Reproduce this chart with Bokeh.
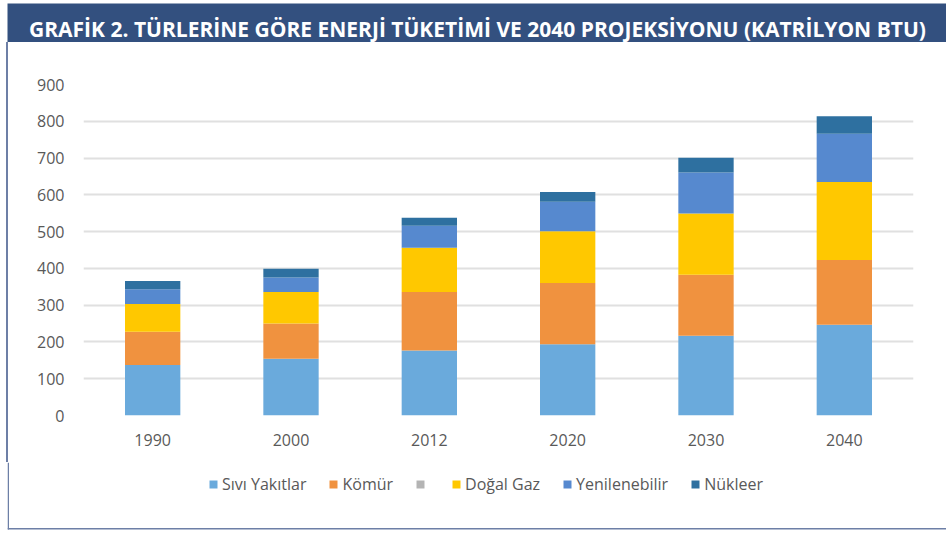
from bokeh.plotting import figure
from bokeh.layouts import column, row
from bokeh.models import (ColumnDataSource, Range1d, FixedTicker, Legend, LegendItem,
                          Label, Div, BoxAnnotation)
from bokeh.embed import file_html
from bokeh.resources import INLINE

years = ["1990", "2000", "2012", "2020", "2030", "2040"]
sivi = [137, 154, 177, 194, 217, 247]
komur = [91, 96, 159, 166, 166, 176]
gaz = [75, 86, 120, 141, 166, 212]
yenilenebilir = [40, 39, 60, 80, 112, 131]
nukleer = [23, 24, 22, 27, 40, 48]

series = ["sivi", "komur", "gaz", "yen", "nuk"]
labels = ["Sıvı Yakıtlar", "Kömür", "Doğal Gaz", "Yenilenebilir", "Nükleer"]
colors = ["#6aaadc", "#f0923f", "#ffc800", "#5689cf", "#2e70a0"]
gray_color = "#b4b4b4"
y_ticks = [0, 100, 200, 300, 400, 500, 600, 700, 800, 900]
title_text = "GRAFİK 2. TÜRLERİNE GÖRE ENERJİ TÜKETİMİ VE 2040 PROJEKSİYONU (KATRİLYON BTU)"

FRAME_LINE = "#6d7fa6"
TW = 946

source = ColumnDataSource(data=dict(years=years, sivi=sivi, komur=komur, gaz=gaz,
                                    yen=yenilenebilir, nuk=nukleer))

# ---------- title bar ----------
TH = 42
tfig = figure(width=TW, height=TH, output_backend="svg", toolbar_location=None,
              x_axis_location=None, y_axis_location=None, min_border=0,
              min_border_top=3, min_border_left=7,
              x_range=Range1d(0, 1), y_range=Range1d(0, 1))
tfig.outline_line_color = None
tfig.xgrid.visible = False
tfig.ygrid.visible = False
tfig.border_fill_color = "white"
tfig.background_fill_color = "#33507f"
tfig.add_layout(Label(x=21.5, y=13.7, x_units="screen", y_units="screen",
                      text=title_text, text_font="Open Sans", text_font_style="bold",
                      text_font_size="21px", text_color="white",
                      text_baseline="alphabetic", text_align="left"))

# ---------- main chart ----------
MH = 420
SW = 8
strip = Div(text="", width=SW, height=MH, margin=0,
            styles={"background": "linear-gradient(to right, white 6.5px, %s 6.5px, %s 8px)"
                    % (FRAME_LINE, FRAME_LINE)})

p = figure(x_range=years, y_range=Range1d(0, 900), width=TW - SW, height=MH,
           output_backend="svg", toolbar_location=None, min_border=0,
           min_border_left=75, min_border_right=33, min_border_top=42,
           min_border_bottom=MH - 42 - 331)
p.outline_line_color = None
p.background_fill_color = "white"
p.border_fill_color = "white"

p.vbar_stack(series, x="years", width=0.4, source=source, color=colors, line_color=None)

p.yaxis.ticker = FixedTicker(ticks=y_ticks)
for ax in (p.xaxis, p.yaxis):
    ax.axis_line_color = None
    ax.major_tick_line_color = None
    ax.minor_tick_line_color = None
    ax.major_tick_out = 0
    ax.major_tick_in = 0
    ax.minor_tick_out = 0
    ax.major_label_text_font = "Open Sans"
    ax.major_label_text_font_size = "16px"
    ax.major_label_text_color = "#595959"
p.yaxis.major_label_standoff = 19
p.xaxis.major_label_standoff = 18

p.xgrid.grid_line_color = None
p.ygrid.grid_line_color = "#e0e0e0"
p.ygrid.grid_line_width = 2

# ---------- legend area (with bottom / left frame lines) ----------
LH = 533 - TH - MH
lfig = figure(width=TW, height=LH, output_backend="svg", toolbar_location=None,
              x_axis_location=None, y_axis_location=None, min_border=0,
              min_border_left=7, x_range=years, y_range=Range1d(0, 1))
lfig.outline_line_color = None
lfig.xgrid.visible = False
lfig.ygrid.visible = False
lfig.border_fill_color = "white"
lfig.background_fill_color = "white"

# legend keys: hidden renderers sharing the chart's data (only their swatches are shown)
key_renderers = lfig.vbar_stack(series, x="years", width=0.4, source=source,
                                color=colors, line_color=None, visible=False)
gray_r = lfig.vbar(x="years", top="sivi", width=0.4, source=source,
                   fill_color=gray_color, line_color=None, visible=False)

items = [LegendItem(label=labels[0], renderers=[key_renderers[0]]),
         LegendItem(label=labels[1], renderers=[key_renderers[1]]),
         LegendItem(label="", renderers=[gray_r]),
         LegendItem(label=labels[2], renderers=[key_renderers[2]]),
         LegendItem(label=labels[3], renderers=[key_renderers[3]]),
         LegendItem(label=labels[4], renderers=[key_renderers[4]])]
legend = Legend(items=items, orientation="horizontal", location=(201, 38),
                glyph_width=10, glyph_height=10, label_standoff=4, spacing=22,
                padding=0, margin=0, border_line_color=None, background_fill_alpha=0,
                label_text_font="Open Sans", label_text_font_size="16px",
                label_text_color="#595959", label_width=0, label_height=20,
                click_policy="none")
lfig.add_layout(legend, "center")


def sbox(fig, l, r, t, b):
    fig.add_layout(BoxAnnotation(left=l, right=r, top=t, bottom=b,
                                 left_units="screen", right_units="screen",
                                 top_units="screen", bottom_units="screen",
                                 fill_color=FRAME_LINE, fill_alpha=1, line_color=None))


sbox(lfig, 0, 1.5, LH, 4)
sbox(lfig, 0, TW, 5.5, 4)

layout = column(tfig, row(strip, p), lfig)
open("out.html", "w").write(file_html(layout, INLINE))
